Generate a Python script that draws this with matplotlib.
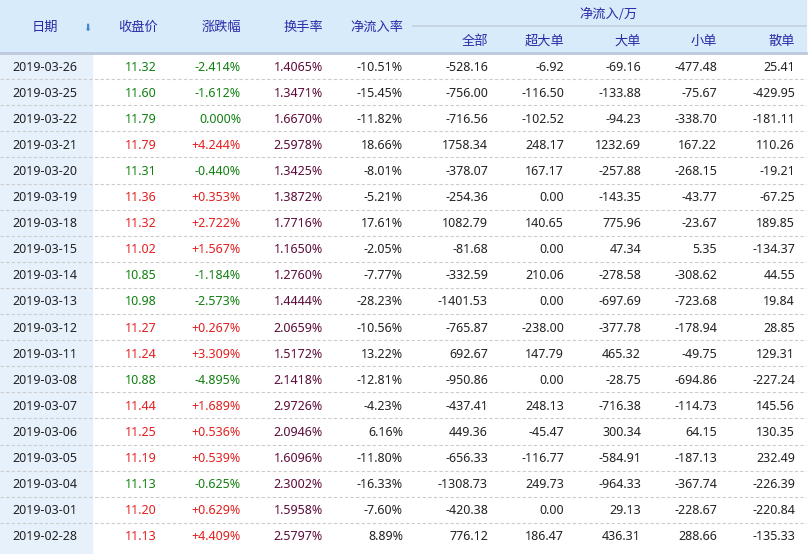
import matplotlib.pyplot as plt
from matplotlib.patches import Rectangle

plt.rcParams['font.family'] = ['Noto Sans CJK SC']

dates = ['2019-03-26', '2019-03-25', '2019-03-22', '2019-03-21', '2019-03-20', '2019-03-19',
         '2019-03-18', '2019-03-15', '2019-03-14', '2019-03-13', '2019-03-12', '2019-03-11',
         '2019-03-08', '2019-03-07', '2019-03-06', '2019-03-05', '2019-03-04', '2019-03-01',
         '2019-02-28']
close = ['11.32', '11.60', '11.79', '11.79', '11.31', '11.36', '11.32', '11.02', '10.85', '10.98',
         '11.27', '11.24', '10.88', '11.44', '11.25', '11.19', '11.13', '11.20', '11.13']
change = ['-2.414%', '-1.612%', '0.000%', '+4.244%', '-0.440%', '+0.353%', '+2.722%', '+1.567%',
          '-1.184%', '-2.573%', '+0.267%', '+3.309%', '-4.895%', '+1.689%', '+0.536%', '+0.539%',
          '-0.625%', '+0.629%', '+4.409%']
turnover = ['1.4065%', '1.3471%', '1.6670%', '2.5978%', '1.3425%', '1.3872%', '1.7716%', '1.1650%',
            '1.2760%', '1.4444%', '2.0659%', '1.5172%', '2.1418%', '2.9726%', '2.0946%', '1.6096%',
            '2.3002%', '1.5958%', '2.5797%']
net_rate = ['-10.51%', '-15.45%', '-11.82%', '18.66%', '-8.01%', '-5.21%', '17.61%', '-2.05%',
            '-7.77%', '-28.23%', '-10.56%', '13.22%', '-12.81%', '-4.23%', '6.16%', '-11.80%',
            '-16.33%', '-7.60%', '8.89%']
net_all = ['-528.16', '-756.00', '-716.56', '1758.34', '-378.07', '-254.36', '1082.79', '-81.68',
           '-332.59', '-1401.53', '-765.87', '692.67', '-950.86', '-437.41', '449.36', '-656.33',
           '-1308.73', '-420.38', '776.12']
super_big = ['-6.92', '-116.50', '-102.52', '248.17', '167.17', '0.00', '140.65', '0.00', '210.06',
             '0.00', '-238.00', '147.79', '0.00', '248.13', '-45.47', '-116.77', '249.73', '0.00',
             '186.47']
big = ['-69.16', '-133.88', '-94.23', '1232.69', '-257.88', '-143.35', '775.96', '47.34', '-278.58',
       '-697.69', '-377.78', '465.32', '-28.75', '-716.38', '300.34', '-584.91', '-964.33', '29.13',
       '436.31']
small = ['-477.48', '-75.67', '-338.70', '167.22', '-268.15', '-43.77', '-23.67', '5.35', '-308.62',
         '-723.68', '-178.94', '-49.75', '-694.86', '-114.73', '64.15', '-187.13', '-367.74', '-228.67',
         '288.66']
retail = ['25.41', '-429.95', '-181.11', '110.26', '-19.21', '-67.25', '189.85', '-134.37', '44.55',
          '19.84', '28.85', '129.31', '-227.24', '145.56', '130.35', '232.49', '-226.39', '-220.84',
          '-135.33']

W, H = 810, 554
HEADER_H = 53
ROW_H = 26.1
HEAD_BG = '#d7ebfb'
HEAD_FG = '#2b2ba8'
GREEN = '#118011'
RED = '#e41f1f'
TURN = '#5c0b3a'
NUM_FONT = 'Noto Sans'

fig = plt.figure(figsize=(W / 100, H / 100), dpi=100)
ax = fig.add_axes([0, 0, 1, 1])
ax.set_xlim(0, W)
ax.set_ylim(H, 0)
ax.axis('off')

# шапка таблицы
ax.add_patch(Rectangle((0, 0), W - 4, HEADER_H, color=HEAD_BG, zorder=0))
ax.plot([0, W - 4], [HEADER_H, HEADER_H], color='#bcc9dc', lw=2, zorder=1)
ax.plot([413, W - 4], [26, 26], color='#c5cfdc', lw=1.2, zorder=1)
# фон колонки с датами
ax.add_patch(Rectangle((0, HEADER_H), 92, H - HEADER_H, color='#e6f1fb', zorder=0))

fs = 9.5
ax.text(45, 27, '日期', ha='center', va='center', color=HEAD_FG, fontsize=fs)
ax.text(87, 28, '⬇', ha='center', va='center', color='#4a86d0', fontsize=7, family='DejaVu Sans')
ax.text(138, 27, '收盘价', ha='center', va='center', color=HEAD_FG, fontsize=fs)
ax.text(241, 27, '涨跌幅', ha='right', va='center', color=HEAD_FG, fontsize=fs)
ax.text(323, 27, '换手率', ha='right', va='center', color=HEAD_FG, fontsize=fs)
ax.text(403, 27, '净流入率', ha='right', va='center', color=HEAD_FG, fontsize=fs)
ax.text(608, 14, '净流入/万', ha='center', va='center', color=HEAD_FG, fontsize=fs)
sub_heads = ['全部', '超大单', '大单', '小单', '散单']
sub_x = [488, 564, 641, 717, 795]
for name, x in zip(sub_heads, sub_x):
    ax.text(x, 41, name, ha='right', va='center', color=HEAD_FG, fontsize=fs)

fs = 9
for i, d in enumerate(dates):
    y = HEADER_H + ROW_H * (i + 0.5) + 1
    col = GREEN if change[i].startswith('-') or change[i] == '0.000%' else RED
    kw = dict(va='center', fontsize=fs, family=NUM_FONT)
    ax.text(12, y, d, ha='left', color='#222222', **kw)
    ax.text(157, y, close[i], ha='right', color=col, **kw)
    ax.text(241, y, change[i], ha='right', color=col, **kw)
    ax.text(323, y, turnover[i], ha='right', color=TURN, **kw)
    ax.text(403, y, net_rate[i], ha='right', color='#222222', **kw)
    for vals, x in zip([net_all, super_big, big, small, retail], sub_x):
        ax.text(x, y, vals[i], ha='right', color='#222222', **kw)
    if i < len(dates) - 1:
        yl = HEADER_H + ROW_H * (i + 1)
        ax.plot([0, W - 4], [yl, yl], color='#cccccc', lw=0.8, ls=(0, (3, 2)), zorder=1)

fig.savefig('out.png', dpi=100)
